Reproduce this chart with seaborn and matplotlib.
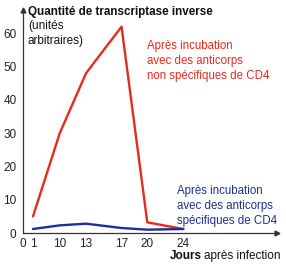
import matplotlib
matplotlib.use("Agg")
import matplotlib.pyplot as plt
import seaborn as sns
import pandas as pd

# Data
days = [1, 10, 13, 17, 20, 24]
non_specific = [5, 30, 48, 62, 3.2, 1.2]
specific = [1.2, 2.3, 2.8, 1.5, 1.0, 1.2]
# the day axis is drawn with uneven spacing: tick labels and their axis positions
tick_labels = [0, 1, 10, 13, 17, 20, 24]
tick_positions = [0, 1.0, 3.6, 6.15, 9.6, 12.1, 15.6]
y_ticks = [0, 10, 20, 30, 40, 50, 60]

pos_of = dict(zip(tick_labels, tick_positions))

red = "#e62a1e"
blue = "#1f2e9c"

sns.set_theme(style="white")
plt.rcParams["font.family"] = ["Liberation Sans", "DejaVu Sans"]

fig = plt.figure(figsize=(2.86, 2.67), dpi=100)
ax = fig.add_axes([22.7 / 286, 34 / 267, 254.3 / 286, 223 / 267])

df = pd.DataFrame({
    "pos": [pos_of[d] for d in days] * 2,
    "val": non_specific + specific,
    "serie": ["ns"] * len(days) + ["s"] * len(days),
})
sns.lineplot(data=df, x="pos", y="val", hue="serie", palette={"ns": red, "s": blue},
             ax=ax, legend=False, linewidth=1.7, estimator=None, sort=False)

ax.set_xlim(0, 24.7)
ax.set_ylim(0, 67)
ax.set_xticks(tick_positions)
ax.set_xticklabels([str(t) for t in tick_labels])
ax.set_yticks(y_ticks)
ax.set_yticklabels([str(t) for t in y_ticks])
ax.set_xlabel("")
ax.set_ylabel("")
ax.tick_params(axis="both", labelsize=8.5, colors="#222222", length=3, width=0.8,
               direction="out", pad=1.5)
ax.tick_params(axis="x", pad=0.5)
for s in ["top", "right"]:
    ax.spines[s].set_visible(False)
for s in ["left", "bottom"]:
    ax.spines[s].set_color("#333333")
    ax.spines[s].set_linewidth(0.9)
ax.set_facecolor("none")

# axis arrows
ax.plot(1, 0, marker=">", color="#333333", markersize=3.5, transform=ax.transAxes, clip_on=False)
ax.plot(0, 1, marker="^", color="#333333", markersize=3.5, transform=ax.transAxes, clip_on=False)

# titles
fig.text(28 / 286, 1 - 12 / 267, "Quantité de transcriptase inverse", fontsize=8.4,
         fontweight="bold", va="center", ha="left", color="#111111")
fig.text(28 / 286, 1 - 33.5 / 267, "(unités\narbitraires)", fontsize=8.5,
         va="center", ha="left", color="#111111", linespacing=1.3)

fig.text(170 / 286, 1 - 256 / 267, "Jours", fontsize=8.5, fontweight="bold",
         va="center", ha="left", color="#111111")
fig.text(280 / 286, 1 - 256 / 267, "après infection", fontsize=8.5,
         va="center", ha="right", color="#111111")

fig.text(147 / 286, 1 - 61 / 267,
         "Après incubation\navec des anticorps\nnon spécifiques de CD4",
         fontsize=8.3, color=red, va="center", ha="left", linespacing=1.3)
fig.text(177 / 286, 1 - 206 / 267,
         "Après incubation\navec des anticorps\nspécifiques de CD4",
         fontsize=8.3, color=blue, va="center", ha="left", linespacing=1.3)

fig.savefig("out.png", dpi=100)
